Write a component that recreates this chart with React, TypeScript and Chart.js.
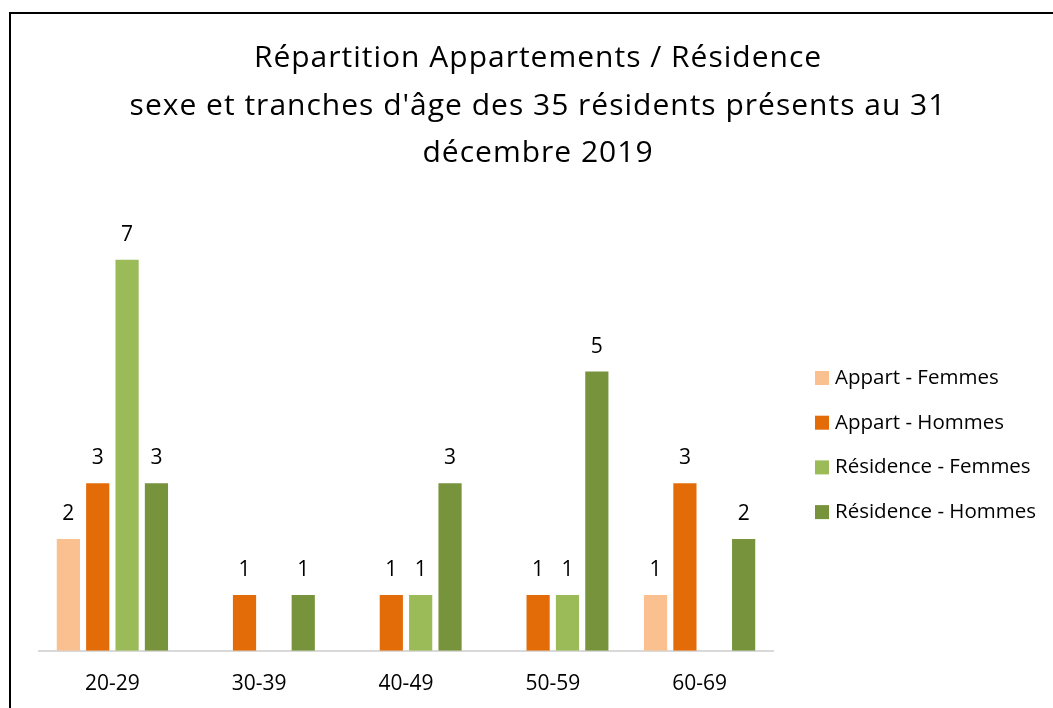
import React, { useEffect, useRef } from "react";
import { Chart, registerables } from "chart.js";

Chart.register(...registerables);

const categories = ["20-29", "30-39", "40-49", "50-59", "60-69"];
const seriesNames = ["Appart - Femmes", "Appart - Hommes", "Résidence - Femmes", "Résidence - Hommes"];
const appartFemmes = [2, null, null, null, 1];
const appartHommes = [3, 1, 1, 1, 3];
const residenceFemmes = [7, null, 1, 1, null];
const residenceHommes = [3, 1, 3, 5, 2];
const colors = ["#FAC090", "#E36C09", "#9BBB59", "#77933C"];
const titleLines = [
  "Répartition Appartements / Résidence",
  "sexe et tranches d'âge des 35 résidents présents au 31",
  "décembre 2019",
];

const FONT = "'Open Sans', 'Noto Sans', sans-serif";

const valueLabels = {
  id: "valueLabels",
  afterDatasetsDraw(chart: any) {
    const ctx = chart.ctx;
    ctx.save();
    ctx.fillStyle = "#000";
    ctx.font = `21px ${FONT}`;
    ctx.textAlign = "center";
    ctx.textBaseline = "middle";
    chart.data.datasets.forEach((ds: any, i: number) => {
      const meta = chart.getDatasetMeta(i);
      meta.data.forEach((bar: any, j: number) => {
        const v = ds.data[j];
        if (v === null || v === undefined) return;
        ctx.fillText(String(v), bar.x, bar.y - 25);
      });
    });
    ctx.restore();
  },
};

const titleDraw = {
  id: "titleDraw",
  afterDraw(chart: any) {
    const ctx = chart.ctx;
    ctx.save();
    ctx.fillStyle = "#000";
    ctx.font = `30px ${FONT}`;
    (ctx as any).letterSpacing = "1px";
    ctx.textAlign = "center";
    ctx.textBaseline = "alphabetic";
    const cx = 538;
    const baselines = [67, 115, 162];
    titleLines.forEach((t, i) => ctx.fillText(t, cx, baselines[i]));
    ctx.restore();
  },
};

const sideLegend = {
  id: "sideLegend",
  afterDraw(chart: any) {
    const ctx = chart.ctx;
    ctx.save();
    ctx.font = `20.5px ${FONT}`;
    ctx.textBaseline = "middle";
    ctx.textAlign = "left";
    const x0 = chart.chartArea.right + 42;
    const y0 = 378;
    const step = 44.7;
    chart.data.datasets.forEach((ds: any, i: number) => {
      const y = y0 + i * step;
      ctx.fillStyle = ds.backgroundColor;
      ctx.fillRect(x0, y - 7, 14, 14);
      ctx.fillStyle = "#000";
      ctx.fillText(ds.label, x0 + 20, y);
    });
    ctx.restore();
  },
};

export default function App() {
  const ref = useRef<HTMLCanvasElement>(null);
  useEffect(() => {
    if (!ref.current) return;
    const data = [appartFemmes, appartHommes, residenceFemmes, residenceHommes];
    const chart = new Chart(ref.current, {
      type: "bar",
      data: {
        labels: categories,
        datasets: data.map((d, i) => ({
          label: seriesNames[i],
          data: d,
          backgroundColor: colors[i],
          categoryPercentage: 0.8,
          barPercentage: 0.79,
        })),
      },
      options: {
        responsive: false,
        animation: false,
        layout: { padding: { left: 39, right: 280, top: 204, bottom: -10 } },
        plugins: {
          legend: { display: false },
          tooltip: { enabled: false },
          title: { display: false },
        },
        scales: {
          x: {
            grid: { display: false, drawTicks: false },
            border: { display: true, color: "#D9D9D9", width: 2 },
            ticks: { color: "#000", font: { family: FONT, size: 21 }, padding: 21 },
          },
          y: {
            display: false,
            min: 0,
            max: 8,
          },
        },
      },
      plugins: [valueLabels, sideLegend, titleDraw],
    });
    return () => chart.destroy();
  }, []);
  return (
    <div style={{ position: "fixed", left: 0, top: 0, width: 1053, height: 708, overflow: "hidden", background: "#fff" }}>
      <div
        style={{
          position: "absolute",
          left: 9,
          top: 12,
          width: 1200,
          height: 900,
          borderLeft: "2px solid #000",
          borderTop: "2px solid #000",
        }}
      />
      <canvas ref={ref} width={1053} height={708} style={{ position: "absolute", left: 0, top: 0 }} />
    </div>
  );
}
